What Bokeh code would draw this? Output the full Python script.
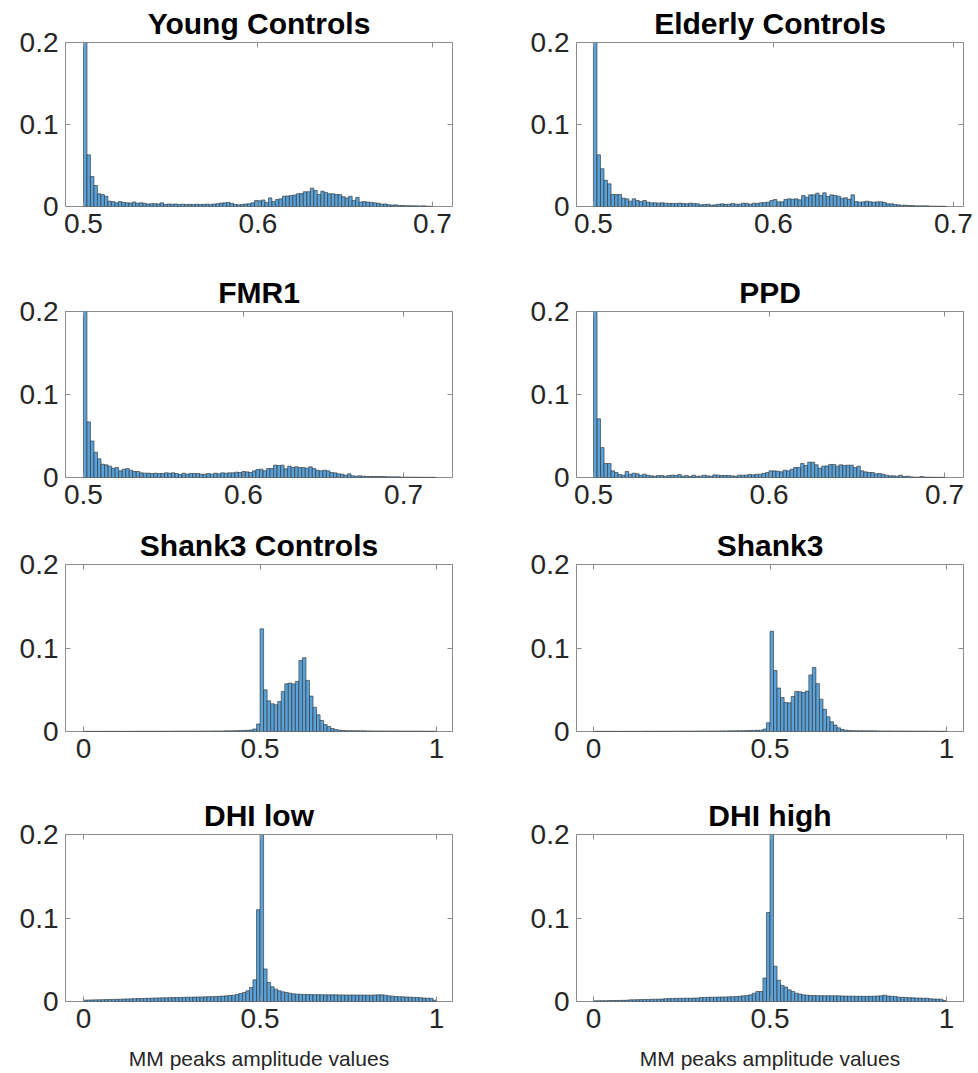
import numpy as np
from bokeh.plotting import figure
from bokeh.layouts import column, row
from bokeh.models import FixedTicker, LinearAxis, Range1d
from bokeh.embed import file_html
from bokeh.resources import INLINE

# ---------------- data (probability per bin, 100 bins each) ----------------
titles = ["Young Controls", "Elderly Controls", "FMR1", "PPD",
          "Shank3 Controls", "Shank3", "DHI low", "DHI high"]

# bin limits (lower, upper) of each histogram
bin_limits = [(0.5, 0.70), (0.5, 0.696), (0.5, 0.72), (0.5, 0.70),
              (0.0, 1.0), (0.0, 1.0), (0.0, 1.0), (0.0, 1.0)]

young_controls = [
    0.26, 0.063, 0.0365, 0.0256, 0.0155, 0.0145, 0.0125, 0.0065, 0.006, 0.0045,
    0.006, 0.005, 0.0045, 0.0042, 0.0055, 0.004, 0.0045, 0.004, 0.003, 0.0035,
    0.0035, 0.0032, 0.0045, 0.0025, 0.003, 0.0028, 0.003, 0.0025, 0.0028, 0.0025,
    0.0026, 0.0024, 0.0028, 0.0025, 0.0026, 0.0028, 0.0025, 0.003, 0.0035, 0.0042,
    0.0045, 0.005, 0.004, 0.0025, 0.002, 0.0025, 0.003, 0.0035, 0.0045, 0.0072,
    0.007, 0.008, 0.005, 0.0105, 0.006, 0.0085, 0.0093, 0.0126, 0.0128, 0.0135,
    0.014, 0.0155, 0.0158, 0.018, 0.018, 0.0224, 0.0195, 0.0146, 0.0187, 0.017,
    0.0155, 0.0155, 0.0146, 0.0145, 0.012, 0.0105, 0.0125, 0.0073, 0.011, 0.0055,
    0.006, 0.0055, 0.005, 0.0045, 0.004, 0.003, 0.003, 0.0022, 0.0018, 0.002,
    0.0012, 0.0012, 0.001, 0.001, 0.0008, 0.0008, 0.0006, 0.0008, 0.0003, 0.0002]

elderly_controls = [
    0.24, 0.063, 0.046, 0.032, 0.0276, 0.0146, 0.0146, 0.0146, 0.0102, 0.0094,
    0.0065, 0.0094, 0.0073, 0.0061, 0.0073, 0.0053, 0.0045, 0.0045, 0.0041, 0.0045,
    0.0041, 0.0037, 0.0037, 0.0037, 0.0041, 0.0037, 0.0033, 0.0041, 0.0037, 0.0033,
    0.002, 0.0024, 0.0028, 0.0016, 0.002, 0.0028, 0.0033, 0.0024, 0.0028, 0.0037,
    0.0028, 0.0028, 0.0041, 0.0037, 0.0028, 0.0041, 0.0037, 0.0045, 0.0049, 0.0053,
    0.0073, 0.0085, 0.0057, 0.0057, 0.0085, 0.0093, 0.0089, 0.0093, 0.0081, 0.0134,
    0.0114, 0.0142, 0.0142, 0.0163, 0.0134, 0.0167, 0.0122, 0.0142, 0.0134, 0.0126,
    0.0102, 0.0106, 0.0089, 0.0142, 0.0061, 0.0053, 0.0057, 0.0065, 0.0057, 0.0053,
    0.0057, 0.0057, 0.0049, 0.0033, 0.0033, 0.0024, 0.002, 0.0016, 0.0016, 0.0012,
    0.0012, 0.0008, 0.0008, 0.0008, 0.0008, 0.0004, 0.0004, 0.0004, 0.0004, 0.0002]

fmr1 = [
    0.25, 0.067, 0.044, 0.0305, 0.0225, 0.016, 0.0153, 0.0137, 0.0112, 0.012,
    0.008, 0.010, 0.0108, 0.0088, 0.0072, 0.0072, 0.0056, 0.0052, 0.0052, 0.0048,
    0.0052, 0.0048, 0.0048, 0.0056, 0.0052, 0.0056, 0.0048, 0.0036, 0.0052, 0.004,
    0.0048, 0.0048, 0.0048, 0.004, 0.004, 0.0048, 0.004, 0.0052, 0.0044, 0.0056,
    0.0052, 0.0056, 0.0056, 0.0064, 0.006, 0.0072, 0.0068, 0.006, 0.008, 0.0096,
    0.010, 0.008, 0.0108, 0.0108, 0.0149, 0.0145, 0.0149, 0.0104, 0.0137, 0.012,
    0.0129, 0.012, 0.012, 0.0112, 0.0129, 0.0108, 0.0088, 0.008, 0.0088, 0.008,
    0.006, 0.0056, 0.0044, 0.004, 0.0028, 0.0044, 0.002, 0.0016, 0.002, 0.0016,
    0.0012, 0.0012, 0.0012, 0.0012, 0.0012, 0.0012, 0.0008, 0.0008, 0.0008, 0.0008,
    0.0004, 0.0004, 0.0004, 0.0004, 0.0003, 0.0003, 0.0002, 0.0002, 0.0002, 0.0002]

ppd = [
    0.27, 0.0707, 0.036, 0.0169, 0.0169, 0.008, 0.006, 0.0036, 0.0028, 0.0072,
    0.004, 0.0052, 0.0044, 0.0028, 0.004, 0.0028, 0.002, 0.0016, 0.0024, 0.0024,
    0.0016, 0.0024, 0.0028, 0.0024, 0.0036, 0.0016, 0.0024, 0.0012, 0.0028, 0.0016,
    0.0016, 0.0028, 0.002, 0.0016, 0.0032, 0.0028, 0.0024, 0.0024, 0.0024, 0.002,
    0.0016, 0.0028, 0.0028, 0.0028, 0.0036, 0.0032, 0.004, 0.004, 0.0048, 0.006,
    0.008, 0.008, 0.0076, 0.0068, 0.0088, 0.008, 0.010, 0.012, 0.012, 0.0169,
    0.0145, 0.0185, 0.0185, 0.0153, 0.0112, 0.0137, 0.014, 0.0157, 0.0157, 0.0137,
    0.0153, 0.0145, 0.0149, 0.0149, 0.012, 0.0137, 0.008, 0.0068, 0.006, 0.006,
    0.0044, 0.0048, 0.004, 0.0028, 0.002, 0.002, 0.0016, 0.0028, 0.0012, 0.0016,
    0.0008, 0.0004, 0.0004, 0.0012, 0.0004, 0.0004, 0.0003, 0.0002, 0.0002, 0.0002]

shank3_controls = [
    0.0002, 0.0002, 0.0002, 0.0002, 0.0002, 0.0002, 0.0002, 0.0002, 0.0002, 0.0002,
    0.0002, 0.0002, 0.0002, 0.0002, 0.0002, 0.0003, 0.0003, 0.0003, 0.0003, 0.0003,
    0.0003, 0.0003, 0.0003, 0.0003, 0.0003, 0.0004, 0.0004, 0.0004, 0.0004, 0.0004,
    0.0004, 0.0004, 0.0005, 0.0005, 0.0005, 0.0005, 0.0006, 0.0006, 0.0006, 0.0007,
    0.0008, 0.0008, 0.0009, 0.001, 0.0011, 0.0012, 0.0014, 0.0018, 0.003, 0.009,
    0.123, 0.050, 0.0368, 0.0332, 0.032, 0.036, 0.048, 0.0572, 0.058, 0.057,
    0.060, 0.085, 0.0884, 0.0612, 0.0424, 0.029, 0.020, 0.0132, 0.0084, 0.006,
    0.0036, 0.0024, 0.0016, 0.0012, 0.001, 0.001, 0.0009, 0.0009, 0.0008, 0.0008,
    0.0007, 0.0007, 0.0006, 0.0006, 0.0006, 0.0006, 0.0005, 0.0005, 0.0005, 0.0005,
    0.0005, 0.0004, 0.0004, 0.0004, 0.0004, 0.0004, 0.0004, 0.0003, 0.0003, 0.0003]

shank3 = [
    0.0002, 0.0002, 0.0002, 0.0002, 0.0002, 0.0002, 0.0002, 0.0002, 0.0002, 0.0002,
    0.0002, 0.0002, 0.0002, 0.0002, 0.0003, 0.0003, 0.0003, 0.0003, 0.0003, 0.0003,
    0.0003, 0.0003, 0.0003, 0.0004, 0.0004, 0.0004, 0.0004, 0.0004, 0.0004, 0.0005,
    0.0005, 0.0005, 0.0005, 0.0006, 0.0006, 0.0006, 0.0007, 0.0007, 0.0008, 0.0008,
    0.0009, 0.001, 0.001, 0.0011, 0.0012, 0.0013, 0.0014, 0.0016, 0.003, 0.0105,
    0.120, 0.073, 0.052, 0.0407, 0.0347, 0.0343, 0.042, 0.048, 0.0476, 0.0468,
    0.0484, 0.0677, 0.0766, 0.0573, 0.0387, 0.0266, 0.0177, 0.0117, 0.0077, 0.0044,
    0.0024, 0.0016, 0.0012, 0.001, 0.0009, 0.0009, 0.0008, 0.0008, 0.0008, 0.0008,
    0.0007, 0.0007, 0.0006, 0.0006, 0.0006, 0.0005, 0.0005, 0.0005, 0.0005, 0.0005,
    0.0004, 0.0004, 0.0004, 0.0004, 0.0004, 0.0004, 0.0003, 0.0003, 0.0003, 0.0003]

dhi_low = [
    0.0016, 0.0018, 0.0019, 0.002, 0.0021, 0.0022, 0.0023, 0.0024, 0.0025, 0.0026,
    0.0028, 0.003, 0.0031, 0.0032, 0.0034, 0.0035, 0.0036, 0.0037, 0.0038, 0.004,
    0.0042, 0.0043, 0.0044, 0.0045, 0.0046, 0.0047, 0.0048, 0.0049, 0.005, 0.0051,
    0.0052, 0.0053, 0.0054, 0.0055, 0.0056, 0.0057, 0.0058, 0.006, 0.0062, 0.0065,
    0.0068, 0.0072, 0.0076, 0.0084, 0.0096, 0.0108, 0.0128, 0.0168, 0.026, 0.110,
    0.21, 0.039, 0.0228, 0.0176, 0.0148, 0.0128, 0.0116, 0.0108, 0.010, 0.0092,
    0.0088, 0.0086, 0.0085, 0.0084, 0.0083, 0.0082, 0.0082, 0.0081, 0.008, 0.008,
    0.008, 0.008, 0.0079, 0.0079, 0.0078, 0.0078, 0.0078, 0.0077, 0.0077, 0.0077,
    0.0076, 0.0076, 0.0078, 0.008, 0.008, 0.0076, 0.0068, 0.0064, 0.006, 0.0058,
    0.0056, 0.0054, 0.0052, 0.005, 0.0048, 0.0046, 0.0042, 0.004, 0.0038, 0.0016]

dhi_high = [
    0.0008, 0.0009, 0.001, 0.001, 0.0011, 0.0012, 0.0012, 0.0013, 0.0014, 0.0015,
    0.002, 0.0021, 0.0022, 0.0023, 0.0024, 0.0025, 0.0026, 0.0027, 0.0028, 0.003,
    0.0034, 0.0035, 0.0036, 0.0037, 0.0038, 0.0039, 0.004, 0.004, 0.0041, 0.0042,
    0.0048, 0.0049, 0.005, 0.0051, 0.0052, 0.0053, 0.0054, 0.0055, 0.0056, 0.0058,
    0.006, 0.0062, 0.0068, 0.0072, 0.008, 0.010, 0.012, 0.012, 0.0282, 0.1066,
    0.21, 0.0423, 0.0254, 0.0193, 0.0173, 0.014, 0.012, 0.010, 0.0089, 0.008,
    0.0076, 0.0072, 0.0071, 0.007, 0.007, 0.0069, 0.0069, 0.0068, 0.0068, 0.0068,
    0.0066, 0.0065, 0.0064, 0.0064, 0.0063, 0.0063, 0.0062, 0.0062, 0.0062, 0.0064,
    0.0066, 0.007, 0.0076, 0.0066, 0.0062, 0.006, 0.0052, 0.005, 0.0048, 0.0046,
    0.0044, 0.0042, 0.0041, 0.004, 0.004, 0.0032, 0.003, 0.0029, 0.0028, 0.0012]

series = [young_controls, elderly_controls, fmr1, ppd,
          shank3_controls, shank3, dhi_low, dhi_high]

y_ticks = [0, 0.1, 0.2]
y_tick_labels = ["0", "0.1", "0.2"]
x_ticks_narrow = [0.5, 0.6, 0.7]
x_tick_labels_narrow = ["0.5", "0.6", "0.7"]
x_ticks_wide = [0, 0.5, 1]
x_tick_labels_wide = ["0", "0.5", "1"]
x_label = "MM peaks amplitude values"

# ---------------- layout / style ----------------
x_views = [(0.4897, 0.7115), (0.4906, 0.7056), (0.4888, 0.7306), (0.4903, 0.7108),
           (-0.051, 1.045), (-0.048, 1.048), (-0.051, 1.045), (-0.048, 1.048)]
frame_w = 387
frame_hs = [164, 166, 167, 167]
tops = [42, 50, 47, 51]
bottoms = [55, 40, 52, 66]
lefts = [65, 104]
rights = [20, 15]

FONT = "Liberation Sans"
TICK_FS = "28px"
TITLE_FS = "30px"
AX_COL = "#262626"
BOX_COL = "#8c8c8c"
BAR_FILL = "#5aa2d8"
BAR_LINE = "#2b2b2b"


def edge_axis(ticks):
    return LinearAxis(ticker=FixedTicker(ticks=ticks),
                      major_label_text_font_size="1px", major_label_text_color=None,
                      axis_line_color=None, major_tick_line_color=BOX_COL,
                      major_tick_in=5, major_tick_out=0, minor_tick_line_color=None,
                      major_label_standoff=0)


def make_panel(i):
    r, c = divmod(i, 2)
    lo, hi = bin_limits[i]
    vals = np.asarray(series[i], dtype=float)
    n = len(vals)
    edges = lo + (hi - lo) * np.arange(n + 1) / n
    p = figure(frame_width=frame_w, frame_height=frame_hs[r],
               x_range=Range1d(*x_views[i]), y_range=Range1d(0, 0.2),
               output_backend="svg", toolbar_location=None,
               min_border_left=lefts[c], min_border_right=rights[c],
               min_border_top=tops[r], min_border_bottom=bottoms[r],
               title=titles[i])
    p.quad(left=edges[:-1], right=edges[1:], bottom=0, top=vals,
           fill_color=BAR_FILL, line_color=BAR_LINE, line_width=0.6)
    p.grid.visible = False
    p.outline_line_color = BOX_COL
    p.outline_line_width = 1
    p.background_fill_color = "white"
    p.border_fill_color = "white"

    p.title.text_font = FONT
    p.title.text_font_size = TITLE_FS
    p.title.text_font_style = "bold"
    p.title.text_color = "black"
    p.title.align = "center"
    p.title.standoff = 5

    if r < 2:
        xt, xl = x_ticks_narrow, x_tick_labels_narrow
    else:
        xt, xl = x_ticks_wide, x_tick_labels_wide

    xax = p.xaxis[0]
    yax = p.yaxis[0]
    for ax, ticks, labels in ((xax, xt, xl), (yax, y_ticks, y_tick_labels)):
        ax.ticker = FixedTicker(ticks=ticks)
        ax.major_label_overrides = dict(zip(ticks, labels))
        ax.major_label_text_font = FONT
        ax.major_label_text_font_size = TICK_FS
        ax.major_label_text_color = AX_COL
        ax.axis_line_color = None
        ax.major_tick_line_color = BOX_COL
        ax.major_tick_in = 5
        ax.major_tick_out = 0
        ax.minor_tick_line_color = None
        ax.major_label_standoff = 7

    if r == 3:
        xax.axis_label = x_label
        xax.axis_label_text_font = FONT
        xax.axis_label_text_font_size = "21px"
        xax.axis_label_text_font_style = "normal"
        xax.axis_label_text_color = AX_COL
        xax.axis_label_standoff = 16

    # mirrored ticks on the top and right edges (box on)
    p.add_layout(edge_axis(xt), "above")
    p.add_layout(edge_axis(y_ticks), "right")
    return p


panels = [make_panel(i) for i in range(8)]
layout = column([row(panels[2 * k], panels[2 * k + 1], spacing=0) for k in range(4)], spacing=0)

open("out.html", "w").write(file_html(layout, INLINE, "MM peaks amplitude histograms"))
